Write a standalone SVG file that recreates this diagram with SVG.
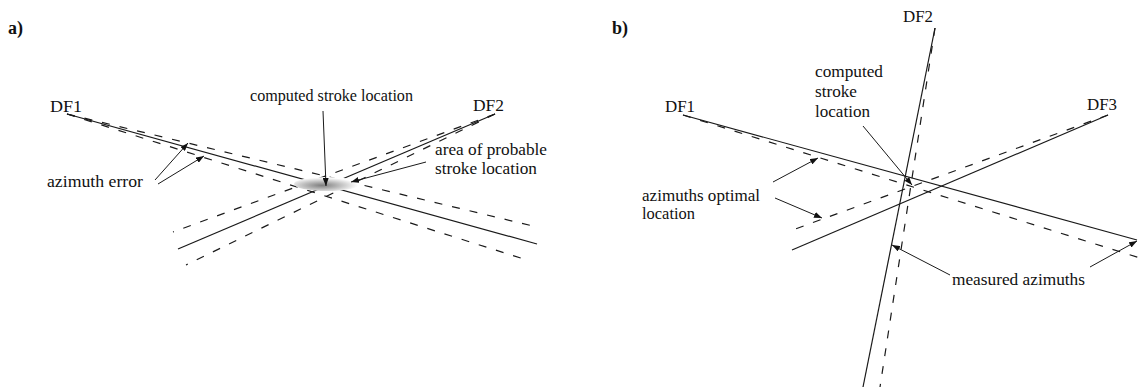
<svg xmlns="http://www.w3.org/2000/svg" width="1140" height="387" viewBox="0 0 1140 387">
<style>
.t{font-family:"Liberation Serif","Times New Roman",serif;font-size:16.5px;fill:#111}
.h{font-family:"Liberation Serif","Times New Roman",serif;font-size:18px;font-weight:bold;fill:#111}
.s{stroke:#1a1a1a;stroke-width:1.2;fill:none}
.d{stroke:#1a1a1a;stroke-width:1.2;fill:none;stroke-dasharray:8 10}
.l{stroke:#1a1a1a;stroke-width:1;fill:none;marker-end:url(#ah)}
</style>
<defs>
<marker id="ah" markerWidth="9" markerHeight="6" refX="8" refY="3" orient="auto" markerUnits="userSpaceOnUse">
<path d="M0,0 L8,3 L0,6 z" fill="#111"/>
</marker>
<radialGradient id="area" cx="0.42" cy="0.6" r="0.55">
<stop offset="0" stop-color="#7e7e7e"/>
<stop offset="0.5" stop-color="#bdbdbd"/>
<stop offset="1" stop-color="#ffffff"/>
</radialGradient>
</defs>
<rect width="1140" height="387" fill="#fff"/>

<g id="connectors">
<!-- panel a: DF1 -->
<line class="s" x1="67" y1="114" x2="537" y2="244"/>
<line class="d" x1="67" y1="114" x2="537" y2="227"/>
<line class="d" x1="67" y1="114" x2="530" y2="261"/>
<!-- panel a: DF2 -->
<line class="s" x1="495" y1="114" x2="178" y2="249"/>
<line class="d" x1="495" y1="114" x2="173" y2="232"/>
<line class="d" x1="495" y1="114" x2="186" y2="265"/>
<!-- panel b: DF1 -->
<line class="s" x1="683" y1="115" x2="1137" y2="240"/>
<line class="d" x1="683" y1="115" x2="1140" y2="258"/>
<!-- panel b: DF2 -->
<line class="s" x1="935" y1="28" x2="863" y2="387"/>
<line class="d" x1="935" y1="28" x2="880" y2="387"/>
<!-- panel b: DF3 -->
<line class="s" x1="1108" y1="115" x2="792" y2="250"/>
<line class="d" x1="1108" y1="115" x2="787" y2="232"/>
</g>

<g id="area-of-probable-stroke">
<ellipse cx="327" cy="184" rx="33" ry="7" fill="url(#area)"/>
</g>

<g id="leaders">
<line class="l" x1="323" y1="111" x2="326" y2="186"/>
<line class="l" x1="426" y1="162" x2="351" y2="182"/>
<line class="l" x1="155" y1="180" x2="188" y2="143"/>
<line class="l" x1="158" y1="184" x2="204" y2="156"/>
<line class="l" x1="863" y1="126" x2="912" y2="185"/>
<line class="l" x1="773" y1="182" x2="818" y2="158"/>
<line class="l" x1="775" y1="198" x2="822" y2="218"/>
<line class="l" x1="950" y1="275" x2="892" y2="245"/>
<line class="l" x1="1090" y1="267" x2="1137" y2="241"/>
</g>

<g id="label-a"><text class="h" x="8" y="34">a)</text></g>
<g id="label-b"><text class="h" x="612" y="34">b)</text></g>

<g id="a-df1"><text class="t" x="50" y="112" textLength="32" lengthAdjust="spacingAndGlyphs">DF1</text></g>
<g id="a-df2"><text class="t" x="473" y="111" textLength="31" lengthAdjust="spacingAndGlyphs">DF2</text></g>
<g id="a-computed"><text class="t" x="250" y="101" textLength="163" lengthAdjust="spacingAndGlyphs">computed stroke location</text></g>
<g id="a-area">
<text class="t" x="435" y="155" textLength="112" lengthAdjust="spacingAndGlyphs">area of probable</text>
<text class="t" x="435" y="174" textLength="102" lengthAdjust="spacingAndGlyphs">stroke location</text>
</g>
<g id="a-azimuth-error"><text class="t" x="47" y="187" textLength="96" lengthAdjust="spacingAndGlyphs">azimuth error</text></g>

<g id="b-df1"><text class="t" x="665" y="112" textLength="30" lengthAdjust="spacingAndGlyphs">DF1</text></g>
<g id="b-df2"><text class="t" x="903" y="22" textLength="30" lengthAdjust="spacingAndGlyphs">DF2</text></g>
<g id="b-df3"><text class="t" x="1087" y="110" textLength="30" lengthAdjust="spacingAndGlyphs">DF3</text></g>
<g id="b-computed">
<text class="t" x="815" y="77" textLength="68" lengthAdjust="spacingAndGlyphs">computed</text>
<text class="t" x="815" y="97" textLength="42" lengthAdjust="spacingAndGlyphs">stroke</text>
<text class="t" x="815" y="117" textLength="55" lengthAdjust="spacingAndGlyphs">location</text>
</g>
<g id="b-optimal">
<text class="t" x="642" y="201" textLength="118" lengthAdjust="spacingAndGlyphs">azimuths optimal</text>
<text class="t" x="642" y="219" textLength="53" lengthAdjust="spacingAndGlyphs">location</text>
</g>
<g id="b-measured"><text class="t" x="952" y="285" textLength="133" lengthAdjust="spacingAndGlyphs">measured azimuths</text></g>
</svg>
